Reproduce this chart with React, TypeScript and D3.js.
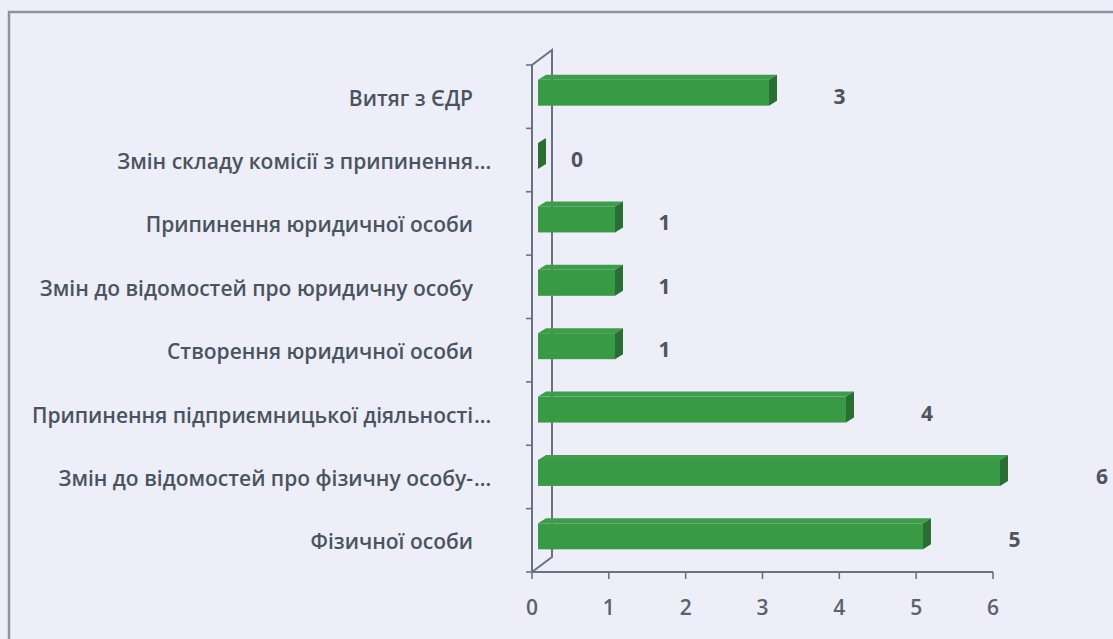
import React from 'react';
import * as d3 from 'd3';

// categories top to bottom, as in the picture
const categories = [
  'Витяг з ЄДР',
  'Змін складу комісії з припинення...',
  'Припинення юридичної особи',
  'Змін до відомостей про юридичну особу',
  'Створення юридичної особи',
  'Припинення підприємницької діяльності...',
  'Змін до відомостей про фізичну особу-...',
  'Фізичної особи',
];
const values = [3, 0, 1, 1, 1, 4, 6, 5];
const xTicks = [0, 1, 2, 3, 4, 5, 6];

const W = 1113, H = 639;
const FONT = "'Open Sans', 'DejaVu Sans', sans-serif";

export default function App() {
  const x = d3.scaleLinear().domain([0, 6]).range([532, 993]);
  const y = d3.scaleBand().domain(categories).range([65, 572]);
  // bars sit a bit into the depth of the 3d box
  const barX = x.copy().range([538, 1000]);
  const labelX = d3.scaleLinear().domain([0, 6]).range([577, 1102]);

  const back = { dx: 20, dy: -15 };
  const barH = 26, sideDx = 8, sideDy = -5;
  const axisColor = '#67737e';
  const labelRight = 473;

  const line = d3.line();

  return (
    <div>
      <style>{`body{margin:0;background:#eeeef8}`}</style>
      <svg width={W} height={H} style={{ display: 'block', background: '#eeeef8' }}>
        <rect x={9} y={12} width={W + 20} height={H + 20} fill="none" stroke="#8a949e" strokeWidth={2.5} />

        {/* 3d box edges */}
        <path d={line([[x(0), y.range()[0]], [x(0) + back.dx, y.range()[0] + back.dy], [x(0) + back.dx, y.range()[1] + back.dy], [x(0), y.range()[1]]])!}
          fill="none" stroke={axisColor} strokeWidth={2} />
        <line x1={x(0)} x2={x(0)} y1={y.range()[0]} y2={y.range()[1]} stroke={axisColor} strokeWidth={2} />
        {d3.range(categories.length + 1).map(i => {
          const yy = y.range()[0] + i * y.step();
          return <line key={'ct' + i} x1={x(0) - 6} x2={x(0)} y1={yy} y2={yy} stroke={axisColor} strokeWidth={1.6} />;
        })}
        <line x1={x(0)} x2={x(6)} y1={y.range()[1]} y2={y.range()[1]} stroke={axisColor} strokeWidth={2} />
        {xTicks.map(t => (
          <g key={'xt' + t}>
            <line x1={x(t)} x2={x(t)} y1={y.range()[1]} y2={y.range()[1] + 7} stroke={axisColor} strokeWidth={1.6} />
            <text x={x(t)} y={607} textAnchor="middle" dominantBaseline="central"
              fontFamily={FONT} fontSize={21} fontWeight={600} fill="#5a626b">{t}</text>
          </g>
        ))}

        {/* bars */}
        {categories.map((c, i) => {
          const v = values[i];
          const x0 = barX(0), x1 = barX(v);
          const yc = y(c)! + y.bandwidth() / 2 - 4;
          const yt = yc - barH / 2, yb = yc + barH / 2;
          const top = line([[x0, yt], [x1, yt], [x1 + sideDx, yt + sideDy], [x0 + sideDx, yt + sideDy]])! + 'Z';
          const side = line([[x1, yt], [x1 + sideDx, yt + sideDy], [x1 + sideDx, yb + sideDy], [x1, yb]])! + 'Z';
          return (
            <g key={c}>
              <path d={top} fill="#3e9d4a" />
              <rect x={x0} y={yt} width={x1 - x0} height={barH} fill="#399a46" />
              <path d={side} fill="#2a6e34" />
              <text x={labelX(v)} y={yc + 3} textAnchor="middle" dominantBaseline="central"
                fontFamily={FONT} fontSize={21} fontWeight={700} fill="#4e555d">{v}</text>
            </g>
          );
        })}

        {/* category labels */}
        {categories.map(c => {
          const cut = c.endsWith('...');
          const main = cut ? c.slice(0, -3) : c;
          const yy = y(c)! + y.bandwidth() / 2 + 1;
          return (
            <g key={'l' + c} fontFamily={FONT} fontSize={21} fontWeight={600} fill="#4a545e">
              <text x={labelRight} y={yy} textAnchor="end" dominantBaseline="central">{main}</text>
              {cut && <text x={labelRight + 1} y={yy} dominantBaseline="central">...</text>}
            </g>
          );
        })}
      </svg>
    </div>
  );
}
